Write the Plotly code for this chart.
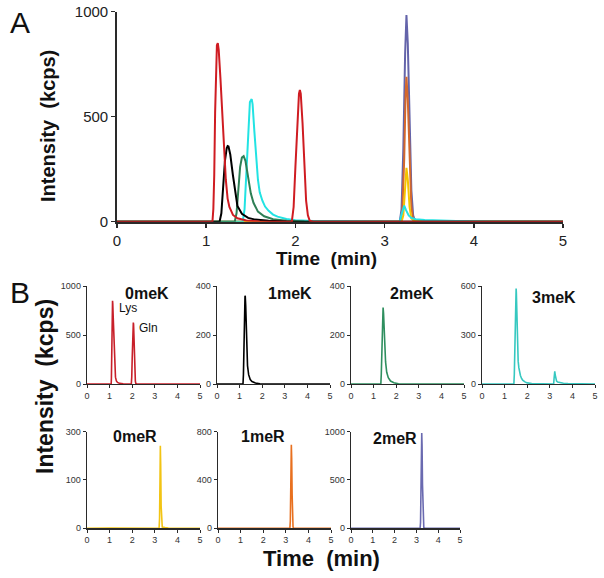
import plotly.graph_objects as go

# ---------------- data ----------------
T_0meK = [0, 1.00, 1.07, 1.08, 1.09, 1.10, 1.11, 1.12, 1.13, 1.14, 1.16, 1.18, 1.20, 1.22, 1.24, 1.26, 1.30, 1.35, 1.45, 1.60,
          1.96, 1.98, 2.00, 2.02, 2.04, 2.05, 2.06, 2.08, 2.10, 2.12, 2.14, 2.16, 2.20, 5]
I_0meK = [0, 0, 0, 60, 220, 520, 740, 840, 850, 820, 680, 500, 340, 200, 110, 70, 32, 16, 6, 1,
          0, 70, 260, 480, 610, 627, 610, 470, 260, 100, 30, 5, 0, 0]

T_1meK = [0, 1.15, 1.17, 1.19, 1.21, 1.23, 1.24, 1.25, 1.27, 1.30, 1.33, 1.35, 1.40, 1.47, 1.55, 1.70, 1.90, 5]
I_1meK = [0, 0, 40, 150, 290, 350, 360, 358, 320, 220, 120, 75, 38, 18, 10, 4, 1, 0]

T_2meK = [0, 1.32, 1.34, 1.36, 1.38, 1.40, 1.42, 1.44, 1.46, 1.48, 1.50, 1.53, 1.58, 1.65, 1.75, 1.90, 2.10, 5]
I_2meK = [0, 0, 40, 150, 260, 305, 312, 290, 235, 175, 135, 90, 48, 26, 12, 5, 1, 0]

T_3meK = [0, 1.41, 1.43, 1.45, 1.47, 1.49, 1.51, 1.52, 1.54, 1.56, 1.58, 1.60, 1.63, 1.66, 1.70, 1.75, 1.80, 1.90, 2.00, 2.20, 2.50,
          3.17, 3.19, 3.21, 3.22, 3.24, 3.27, 3.30, 3.35, 3.45, 3.60, 3.80, 4.20, 5]
I_3meK = [0, 0, 60, 250, 450, 570, 584, 560, 430, 300, 200, 140, 100, 72, 52, 34, 24, 13, 7, 3, 1,
          0, 35, 72, 77, 55, 30, 18, 12, 8, 5, 3, 1, 0]

T_0meR = [0, 1.00, 3.19, 3.21, 3.23, 3.245, 3.26, 3.28, 3.30, 3.33, 3.45, 3.60, 5]
I_0meR = [0, 1, 0, 30, 150, 256, 200, 70, 15, 4, 2, 1, 0]

T_1meR = [0, 3.18, 3.20, 3.22, 3.235, 3.245, 3.26, 3.28, 3.30, 3.32, 3.35, 5]
I_1meR = [0, 0, 60, 300, 600, 690, 580, 280, 70, 10, 0, 0]

T_2meR = [0, 3.17, 3.19, 3.21, 3.23, 3.245, 3.26, 3.28, 3.30, 3.32, 3.34, 3.40, 5]
I_2meR = [0, 0, 60, 350, 800, 984, 850, 450, 150, 30, 5, 0, 0]

SERIES_NAMES = ["0meK", "1meK", "2meK", "3meK", "0meR", "1meR", "2meR"]
TOP_COLORS = ["#cf1c22", "#000000", "#2e7f55", "#22e3e3", "#f5c400", "#d4682c", "#6464aa"]
BOT_COLORS = ["#c8202a", "#000000", "#2f8f5f", "#36c8c0", "#f2c414", "#e8701f", "#6a6ab0"]

Y_MAX = [1000, 400, 400, 600, 300, 800, 1000]
Y_TICKVALS = [[0, 500, 1000], [0, 200, 400], [0, 200, 400], [0, 300, 600], [0, 150, 300], [0, 400, 800], [0, 500, 1000]]
Y_TICKTEXT = [["0", "500", "1000"], ["0", "200", "400"], ["0", "200", "400"], ["0", "300", "600"],
              ["0", "100", "300"], ["0", "400", "800"], ["0", "500", "1000"]]
X_TICKS = [0, 1, 2, 3, 4, 5]
TOP_Y_TICKS = [0, 500, 1000]

TIMES = [T_0meK, T_1meK, T_2meK, T_3meK, T_0meR, T_1meR, T_2meR]
INTS = [I_0meK, I_1meK, I_2meK, I_3meK, I_0meR, I_1meR, I_2meR]

# ---------------- layout geometry ----------------
W, H = 604, 578
def px(x): return x / W
def py(y): return 1 - y / H

FONT = "Arial, 'Liberation Sans', Helvetica, sans-serif"
AX = "#2a2a2a"

fig = go.Figure()

top_order = [6, 5, 4, 3, 2, 1, 0]
for i in top_order:
    fig.add_trace(go.Scatter(x=TIMES[i], y=INTS[i], mode="lines", xaxis="x", yaxis="y",
                             line=dict(color=TOP_COLORS[i], width=2), showlegend=False,
                             name=SERIES_NAMES[i], hoverinfo="skip"))

layout = dict(
    template="none",
    width=W, height=H, margin=dict(l=0, r=0, t=0, b=0, pad=0), autosize=False,
    paper_bgcolor="white", plot_bgcolor="white", showlegend=False,
    font=dict(family=FONT, color="#222"),
)
layout["xaxis"] = dict(domain=[px(117), px(563)], anchor="y", range=[0, 5], tickvals=X_TICKS,
                       showline=True, linecolor=AX, linewidth=1.8, ticks="outside", ticklen=4,
                       tickcolor=AX, tickwidth=1.5, showgrid=False, zeroline=False, automargin=False,
                       tickfont=dict(size=15, color="#222"))
layout["yaxis"] = dict(domain=[py(221.7), py(11.7)], anchor="x", range=[0, 1000], tickvals=TOP_Y_TICKS,
                       showline=True, linecolor=AX, linewidth=1.8, ticks="outside", ticklen=4,
                       tickcolor=AX, tickwidth=1.5, showgrid=False, zeroline=False, automargin=False,
                       tickfont=dict(size=15, color="#222"))

cols_r1 = [(87, 200), (217, 330), (351, 464), (482, 595)]
cols_r2 = [(87, 200), (218, 331), (351, 460)]
row1 = (286, 384)
row2 = (431.5, 528.3)
boxes = [(c, row1) for c in cols_r1] + [(c, row2) for c in cols_r2]

for k in range(7):
    n = k + 2
    xa, ya = f"x{n}", f"y{n}"
    (x0, x1), (ytop, ybot) = boxes[k]
    fig.add_trace(go.Scatter(x=TIMES[k], y=INTS[k], mode="lines", xaxis=xa, yaxis=ya,
                             line=dict(color=BOT_COLORS[k], width=1.6), showlegend=False,
                             name=SERIES_NAMES[k], hoverinfo="skip"))
    layout[f"xaxis{n}"] = dict(domain=[px(x0), px(x1)], anchor=ya, range=[0, 5], tickvals=X_TICKS,
                               showline=True, linecolor=AX, linewidth=1.3, ticks="outside", ticklen=3,
                               tickcolor=AX, tickwidth=1, showgrid=False, zeroline=False, automargin=False,
                               tickfont=dict(size=9, color="#333"))
    layout[f"yaxis{n}"] = dict(domain=[py(ybot), py(ytop)], anchor=xa, range=[0, Y_MAX[k]],
                               tickvals=Y_TICKVALS[k], ticktext=Y_TICKTEXT[k],
                               showline=True, linecolor=AX, linewidth=1.3, ticks="outside", ticklen=3,
                               tickcolor=AX, tickwidth=1, showgrid=False, zeroline=False, automargin=False,
                               tickfont=dict(size=9, color="#333"))

ann = []
def label(text, x, y, size, bold=False, angle=0, xanchor="center"):
    t = f"<b>{text}</b>" if bold else text
    ann.append(dict(text=t, x=px(x), y=py(y), xref="paper", yref="paper", showarrow=False,
                    xanchor=xanchor, yanchor="middle", textangle=angle,
                    font=dict(family=FONT, size=size, color="#111")))

label("A", 8, 22, 30, xanchor="left")
label("B", 8, 292, 30, xanchor="left")
label("Intensity  (kcps)", 48, 126, 20, bold=True, angle=-90)
label("Time  (min)", 326, 258, 19, bold=True)
label("Intensity  (kcps)", 45, 387, 23, bold=True, angle=-90)
label("Time  (min)", 321, 558, 22, bold=True)

title_pos = [(147, 293), (290, 293), (412, 293), (554, 297), (135, 436), (263, 436), (395, 438)]
for name, (x, y) in zip(SERIES_NAMES, title_pos):
    label(name, x, y, 16, bold=True)
label("Lys", 117, 308, 12, xanchor="left")
label("Gln", 137, 328, 12, xanchor="left")

layout["annotations"] = ann
fig.update_layout(**layout)
fig.write_html("out.html", config={"displayModeBar": False, "staticPlot": True},
               post_script="document.body.style.margin='0';document.body.style.overflow='hidden';")
